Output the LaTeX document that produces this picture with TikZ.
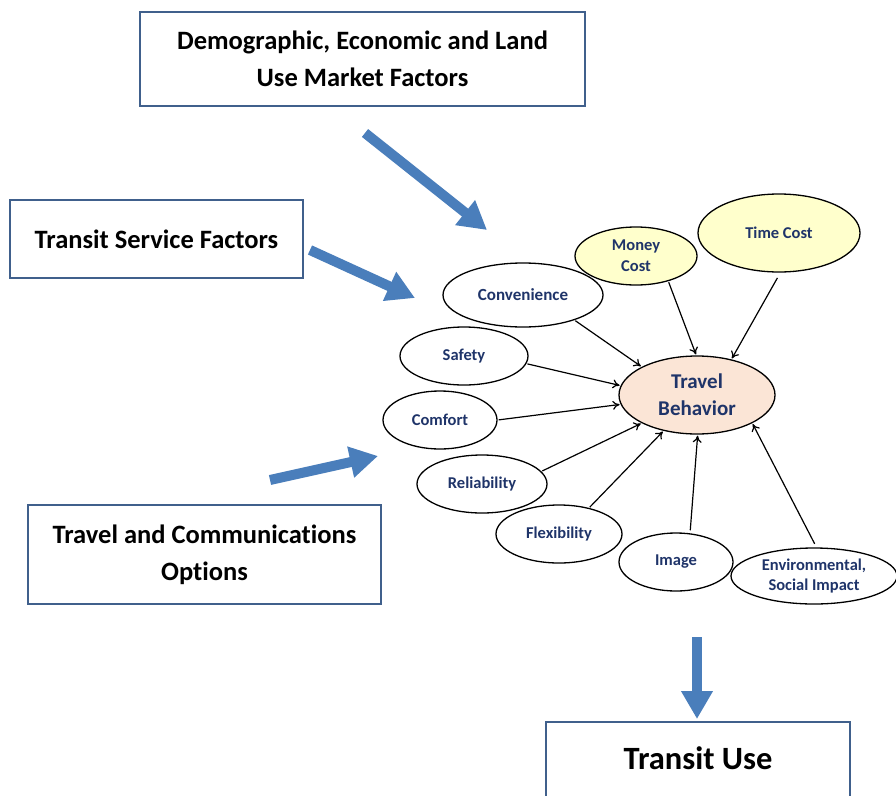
\documentclass[tikz,border=0pt]{standalone}
\usepackage{fontspec}
\setmainfont[Ligatures={NoCommon}]{Carlito}
\usetikzlibrary{shapes.geometric,arrows.meta}
\definecolor{boxline}{RGB}{64,96,140}
\definecolor{bluearrow}{RGB}{74,126,187}
\definecolor{navytext}{RGB}{31,52,105}
\definecolor{yellowfill}{RGB}{255,255,204}
\definecolor{peachfill}{RGB}{251,229,214}
\tikzset{
  factorbox/.style={draw=boxline, line width=2pt, align=center, font=\bfseries\fontsize{26.5}{37}\selectfont, inner sep=0pt},
  bigarrow/.style={draw=bluearrow, line width=10pt, -{Triangle[length=28pt,width=30pt]}, shorten >=0pt},
  oval/.style={ellipse, draw=black, line width=1.3pt, inner sep=0pt, align=center, text=navytext, font=\bfseries\fontsize{16.5}{21}\selectfont},
  link/.style={draw=black, line width=1.2pt, -{To[length=7pt,width=9pt]}, shorten <=1pt, shorten >=1pt}
}
\begin{document}
\begin{tikzpicture}[x=1pt,y=-1pt]
\useasboundingbox (0,0) rectangle (896,795);
% boxes
\node[factorbox, minimum width=445pt, minimum height=94pt] (demo) at (362.5,59) {Demographic, Economic and Land\\Use Market Factors};
\node[factorbox, minimum width=293pt, minimum height=78pt] (tsf) at (156.5,239) {Transit Service Factors};
\node[factorbox, minimum width=353pt, minimum height=99pt] (tco) at (204.5,554.5) {Travel and Communications\\Options};
\draw[boxline, line width=2pt] (546,805) -- (546,722) -- (850,722) -- (850,805);
\node[font=\bfseries\fontsize{32.5}{38}\selectfont] (tu) at (698,758) {Transit Use};
% blue arrows
\coordinate (a1s) at (365,133); \coordinate (a1e) at (487,230);
\coordinate (a2s) at (310,250); \coordinate (a2e) at (415,298);
\coordinate (a3s) at (270,480); \coordinate (a3e) at (378,456);
\coordinate (a4s) at (697,637); \coordinate (a4e) at (697,719);
\draw[bigarrow] (a1s) -- (a1e);
\draw[bigarrow] (a2s) -- (a2e);
\draw[bigarrow] (a3s) -- (a3e);
\draw[bigarrow] (a4s) -- (a4e);
% ellipses
\node[oval, fill=peachfill, minimum width=156pt, minimum height=78pt, font=\bfseries\fontsize{21}{27}\selectfont] (tb) at (697,395) {Travel\\Behavior};
\node[oval, fill=yellowfill, minimum width=122pt, minimum height=58pt] (mc) at (636,256) {Money\\Cost};
\node[oval, fill=yellowfill, minimum width=162pt, minimum height=78pt] (tc) at (779,233) {Time Cost};
\node[oval, minimum width=160pt, minimum height=64pt, font=\bfseries\fontsize{17}{21}\selectfont] (conv) at (523,295) {Convenience};
\node[oval, minimum width=128pt, minimum height=58pt] (saf) at (464,356) {Safety};
\node[oval, minimum width=114pt, minimum height=58pt] (com) at (440,420) {Comfort};
\node[oval, minimum width=130pt, minimum height=58pt] (rel) at (482,484) {Reliability};
\node[oval, minimum width=126pt, minimum height=58pt] (flex) at (559,534) {Flexibility};
\node[oval, minimum width=114pt, minimum height=58pt] (img) at (676,562) {Image};
\node[oval, minimum width=166pt, minimum height=56pt, font=\bfseries\fontsize{16.5}{20}\selectfont] (env) at (814,576) {Environmental,\\Social Impact};
% connectors
\draw[link] (conv.-26) -- (tb.153);
\draw[link] (saf.-7) -- (tb.173);
\draw[link] (com.0) -- (tb.-173);
\draw[link] (rel.12) -- (tb.-153);
\draw[link] (flex.41) -- (tb.-133);
\draw[link, shorten <=3pt] (img.64) -- (tb.-89);
\draw[link, shorten <=4pt] (env.85) -- (tb.-27);
\draw[link] (mc.-38) -- (tb.91);
\draw[link, shorten <=6pt] (tc.-88) -- (tb.46);
\end{tikzpicture}
\end{document}
